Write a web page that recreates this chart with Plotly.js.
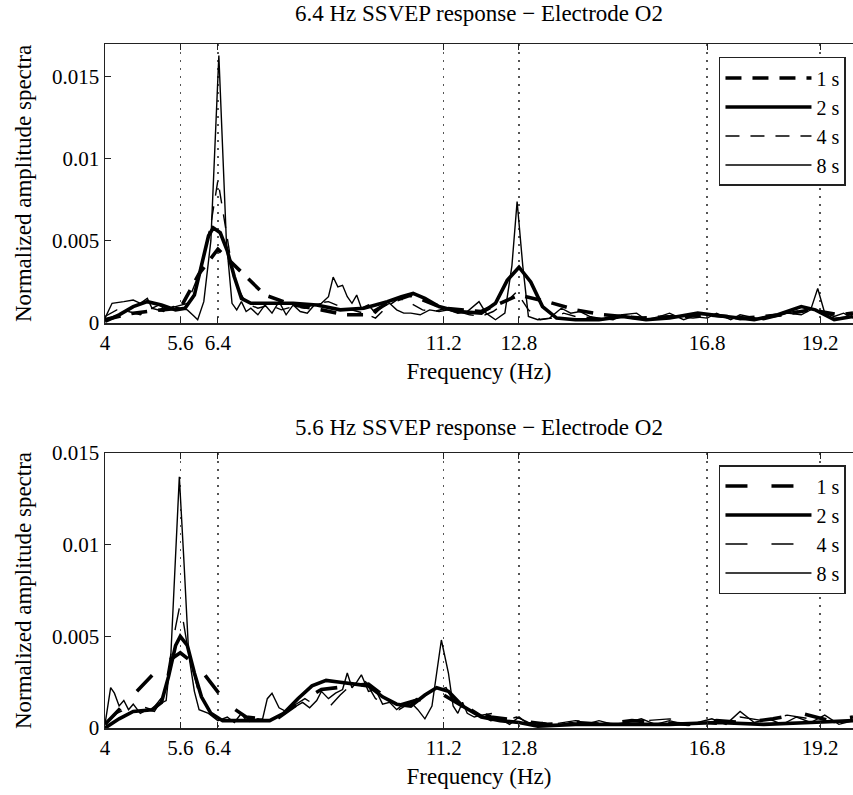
<!DOCTYPE html>
<html>
<head>
<meta charset="utf-8">
<script src="https://cdn.plot.ly/plotly-3.0.1.min.js"></script>
<style>html,body{margin:0;padding:0;background:#fff;}#chart{width:853px;height:795px;}</style>
</head>
<body>
<div id="chart"></div>
<script>
// ---------- Data: top panel, 6.4 Hz SSVEP response (Electrode O2) ----------
const topF1 = [4.0, 4.6, 5.2, 5.6, 6.0, 6.4, 7.4, 8.0, 8.6, 9.1, 9.6, 10.0, 10.5, 11.2, 12.0, 12.8, 13.4, 14.0, 14.6, 15.4, 16.2, 16.8, 17.6, 18.4, 19.0, 19.6, 19.9];
const topV1 = [0.0002, 0.0006, 0.0008, 0.0009, 0.0030, 0.0045, 0.0017, 0.0011, 0.0008, 0.0005, 0.0005, 0.0012, 0.0017, 0.0009, 0.0007, 0.0017, 0.0013, 0.0008, 0.0005, 0.0003, 0.0004, 0.0005, 0.0003, 0.0005, 0.0008, 0.0005, 0.0006];

const topF2 = [4.0, 4.3, 4.6, 4.9, 5.2, 5.5, 5.7, 5.9, 6.05, 6.2, 6.3, 6.45, 6.6, 6.75, 6.9, 7.1, 7.5, 8.0, 8.5, 9.0, 9.5, 10.0, 10.3, 10.55, 10.8, 11.1, 11.5, 12.0, 12.3, 12.55, 12.8, 13.05, 13.3, 13.6, 14.0, 14.5, 15.0, 15.5, 16.0, 16.6, 17.2, 17.8, 18.3, 18.8, 19.1, 19.5, 19.9];
const topV2 = [0.0001, 0.0005, 0.0010, 0.0013, 0.0011, 0.0008, 0.0009, 0.0017, 0.0035, 0.0053, 0.0058, 0.0055, 0.0044, 0.0028, 0.0015, 0.0012, 0.0012, 0.0012, 0.0011, 0.0008, 0.0009, 0.0013, 0.0016, 0.0018, 0.0015, 0.0010, 0.0007, 0.0006, 0.0012, 0.0026, 0.0034, 0.0025, 0.0010, 0.0003, 0.0002, 0.0002, 0.0004, 0.0002, 0.0003, 0.0006, 0.0004, 0.0002, 0.0005, 0.0010, 0.0008, 0.0002, 0.0004];

const topF4 = [4.0, 4.25, 4.5, 4.75, 5.0, 5.25, 5.5, 5.75, 6.0, 6.25, 6.4, 6.55, 6.75, 7.0, 7.25, 7.5, 7.75, 8.0, 8.25, 8.5, 8.75, 9.0, 9.25, 9.5, 9.75, 10.0, 10.25, 10.5, 10.75, 11.0, 11.25, 11.5, 11.75, 12.0, 12.25, 12.5, 12.75, 13.0, 13.25, 13.5, 13.75, 14.0, 14.5, 15.0, 15.5, 16.0, 16.5, 17.0, 17.5, 18.0, 18.5, 19.0, 19.25, 19.5, 19.9];
const topV4 = [0.0004, 0.0008, 0.0007, 0.0005, 0.0009, 0.0007, 0.0010, 0.0012, 0.0030, 0.0060, 0.0087, 0.0060, 0.0025, 0.0012, 0.0009, 0.0011, 0.0008, 0.0010, 0.0009, 0.0012, 0.0013, 0.0010, 0.0008, 0.0006, 0.0003, 0.0010, 0.0015, 0.0012, 0.0008, 0.0007, 0.0009, 0.0007, 0.0005, 0.0004, 0.0007, 0.0012, 0.0019, 0.0008, 0.0002, 0.0003, 0.0006, 0.0004, 0.0003, 0.0005, 0.0002, 0.0004, 0.0003, 0.0005, 0.0002, 0.0003, 0.0006, 0.0009, 0.0006, 0.0003, 0.0004];

const topF8 = [4.0, 4.15, 4.4, 4.6, 4.75, 4.9, 5.0, 5.15, 5.3, 5.45, 5.6, 5.75, 5.9, 5.97, 6.1, 6.25, 6.42, 6.58, 6.7, 6.8, 6.9, 7.0, 7.1, 7.25, 7.4, 7.55, 7.7, 7.85, 8.0, 8.15, 8.3, 8.45, 8.6, 8.75, 8.85, 8.95, 9.05, 9.15, 9.25, 9.35, 9.45, 9.6, 9.75, 9.9, 10.05, 10.2, 10.35, 10.5, 10.7, 10.9, 11.1, 11.3, 11.5, 11.7, 11.95, 12.1, 12.3, 12.5, 12.65, 12.76, 12.88, 13.0, 13.2, 13.45, 13.7, 13.9, 14.1, 14.3, 14.5, 14.8, 15.0, 15.3, 15.5, 15.8, 16.0, 16.3, 16.5, 16.8, 17.0, 17.3, 17.5, 17.8, 18.0, 18.3, 18.5, 18.8, 19.0, 19.15, 19.3, 19.5, 19.7, 19.9];
const topV8 = [0.0003, 0.0012, 0.0013, 0.0014, 0.0012, 0.0015, 0.0009, 0.0011, 0.0008, 0.0010, 0.0009, 0.0008, 0.0004, 0.0002, 0.0013, 0.0050, 0.0163, 0.0050, 0.0012, 0.0008, 0.0013, 0.0007, 0.0009, 0.0005, 0.0011, 0.0006, 0.0013, 0.0005, 0.0011, 0.0007, 0.0006, 0.0011, 0.0012, 0.0016, 0.0028, 0.0022, 0.0023, 0.0016, 0.0012, 0.0017, 0.0009, 0.0011, 0.0006, 0.0010, 0.0012, 0.0008, 0.0006, 0.0006, 0.0005, 0.0008, 0.0007, 0.0008, 0.0006, 0.0007, 0.0013, 0.0006, 0.0002, 0.0006, 0.0035, 0.0074, 0.0035, 0.0004, 0.0002, 0.0003, 0.0009, 0.0006, 0.0007, 0.0004, 0.0003, 0.0002, 0.0005, 0.0006, 0.0002, 0.0004, 0.0006, 0.0002, 0.0004, 0.0003, 0.0006, 0.0002, 0.0005, 0.0003, 0.0002, 0.0004, 0.0006, 0.0005, 0.0008, 0.0021, 0.0006, 0.0004, 0.0006, 0.0003];

// ---------- Data: bottom panel, 5.6 Hz SSVEP response (Electrode O2) ----------
const botF1 = [4.0, 4.6, 5.2, 5.6, 6.0, 6.6, 7.0, 7.6, 8.2, 8.6, 9.2, 9.6, 10.2, 10.6, 11.2, 11.6, 12.2, 12.8, 13.4, 14.0, 14.6, 15.2, 15.8, 16.4, 17.0, 17.6, 18.2, 18.8, 19.4, 19.9];
const botV1 = [0.0002, 0.0018, 0.0034, 0.0041, 0.0033, 0.0013, 0.0006, 0.0004, 0.0015, 0.0021, 0.0023, 0.0024, 0.0012, 0.0015, 0.0018, 0.0012, 0.0006, 0.0004, 0.0002, 0.0003, 0.0002, 0.0004, 0.0003, 0.0002, 0.0004, 0.0003, 0.0005, 0.0008, 0.0004, 0.0006];

const botF2 = [4.0, 4.3, 4.6, 5.0, 5.2, 5.35, 5.5, 5.6, 5.75, 5.9, 6.05, 6.25, 6.5, 7.0, 7.5, 7.8, 8.1, 8.4, 8.7, 9.0, 9.3, 9.6, 9.9, 10.2, 10.5, 10.8, 11.05, 11.3, 11.6, 12.0, 12.4, 12.8, 13.2, 14.0, 15.0, 16.0, 17.0, 18.0, 19.0, 19.9];
const botV2 = [0.0000, 0.0005, 0.0009, 0.0010, 0.0014, 0.0028, 0.0045, 0.0050, 0.0045, 0.0030, 0.0017, 0.0008, 0.0004, 0.0004, 0.0004, 0.0008, 0.0016, 0.0023, 0.0026, 0.0025, 0.0024, 0.0023, 0.0017, 0.0013, 0.0012, 0.0018, 0.0022, 0.0020, 0.0012, 0.0006, 0.0004, 0.0003, 0.0001, 0.0002, 0.0002, 0.0002, 0.0003, 0.0002, 0.0003, 0.0004];

const botF4 = [4.0, 4.25, 4.5, 4.75, 5.0, 5.25, 5.5, 5.6, 5.75, 6.0, 6.25, 6.5, 6.75, 7.0, 7.25, 7.5, 7.75, 8.0, 8.25, 8.5, 8.75, 9.0, 9.25, 9.5, 9.75, 10.0, 10.25, 10.5, 10.75, 11.0, 11.25, 11.5, 11.75, 12.0, 12.25, 12.5, 12.75, 13.0, 13.5, 14.0, 14.5, 15.0, 15.5, 16.0, 16.5, 17.0, 17.5, 18.0, 18.5, 19.0, 19.5, 19.9];
const botV4 = [0.0002, 0.0008, 0.0011, 0.0012, 0.0010, 0.0018, 0.0055, 0.0068, 0.0045, 0.0018, 0.0008, 0.0004, 0.0005, 0.0003, 0.0005, 0.0004, 0.0007, 0.0012, 0.0016, 0.0012, 0.0011, 0.0018, 0.0024, 0.0027, 0.0016, 0.0013, 0.0010, 0.0014, 0.0018, 0.0020, 0.0022, 0.0010, 0.0011, 0.0007, 0.0008, 0.0004, 0.0006, 0.0003, 0.0002, 0.0004, 0.0003, 0.0002, 0.0004, 0.0005, 0.0003, 0.0002, 0.0006, 0.0004, 0.0007, 0.0005, 0.0003, 0.0004];

const botF8 = [4.0, 4.05, 4.12, 4.2, 4.3, 4.4, 4.5, 4.6, 4.75, 4.9, 5.05, 5.15, 5.3, 5.4, 5.5, 5.58, 5.68, 5.78, 5.9, 6.0, 6.2, 6.4, 6.6, 6.75, 6.9, 7.0, 7.2, 7.35, 7.45, 7.55, 7.7, 7.85, 8.0, 8.2, 8.35, 8.5, 8.6, 8.75, 8.9, 9.05, 9.15, 9.25, 9.35, 9.45, 9.6, 9.75, 9.9, 10.05, 10.2, 10.35, 10.5, 10.65, 10.8, 10.95, 11.05, 11.15, 11.3, 11.4, 11.5, 11.6, 11.7, 11.85, 12.0, 12.2, 12.4, 12.6, 12.8, 13.0, 13.3, 13.6, 13.9, 14.2, 14.5, 14.8, 15.1, 15.4, 15.7, 16.0, 16.3, 16.6, 16.9, 17.2, 17.5, 17.8, 18.1, 18.4, 18.7, 19.0, 19.3, 19.6, 19.9];
const botV8 = [0.0002, 0.0010, 0.0022, 0.0019, 0.0012, 0.0015, 0.0010, 0.0013, 0.0008, 0.0010, 0.0009, 0.0013, 0.0015, 0.0040, 0.0090, 0.0137, 0.0090, 0.0040, 0.0020, 0.0010, 0.0008, 0.0004, 0.0006, 0.0003, 0.0008, 0.0004, 0.0004, 0.0005, 0.0016, 0.0019, 0.0011, 0.0009, 0.0011, 0.0014, 0.0011, 0.0015, 0.0020, 0.0016, 0.0019, 0.0021, 0.0030, 0.0022, 0.0025, 0.0029, 0.0020, 0.0021, 0.0013, 0.0014, 0.0010, 0.0013, 0.0014, 0.0010, 0.0005, 0.0012, 0.0030, 0.0048, 0.0030, 0.0012, 0.0008, 0.0014, 0.0008, 0.0006, 0.0007, 0.0004, 0.0005, 0.0002, 0.0006, 0.0002, 0.0003, 0.0001, 0.0003, 0.0002, 0.0004, 0.0002, 0.0003, 0.0005, 0.0002, 0.0004, 0.0002, 0.0003, 0.0005, 0.0002, 0.0009, 0.0003, 0.0005, 0.0002, 0.0006, 0.0003, 0.0007, 0.0002, 0.0004];

const legendNames = ['1 s', '2 s', '4 s', '8 s'];
const xTickVals = [4, 5.6, 6.4, 11.2, 12.8, 16.8, 19.2];
const xTickText = ['4', '5.6', '6.4', '11.2', '12.8', '16.8', '19.2'];
const yTickVals = [0, 0.005, 0.01, 0.015];
const yTickText = ['0', '0.005', '0.01', '0.015'];
const titles = ['6.4 Hz SSVEP response \u2212 Electrode O2', '5.6 Hz SSVEP response \u2212 Electrode O2'];

// ---------- Styles ----------
const FONT = '"Liberation Serif", "Times New Roman", serif';
const thick = 3.6, thin = 1.4;
function tr(x, y, name, width, dash, xa, ya, leg) {
  return {x: x, y: y, name: name, type: 'scatter', mode: 'lines', xaxis: xa, yaxis: ya, legend: leg,
    line: {color: '#000', width: width, dash: dash}, hoverinfo: 'x+y+name'};
}
const traces = [
  tr(topF1, topV1, legendNames[0], thick, '16px,11px', 'x', 'y', 'legend'),
  tr(topF2, topV2, legendNames[1], thick, 'solid', 'x', 'y', 'legend'),
  tr(topF4, topV4, legendNames[2], thin, '14px,11px', 'x', 'y', 'legend'),
  tr(topF8, topV8, legendNames[3], thin, 'solid', 'x', 'y', 'legend'),
  tr(botF1, botV1, legendNames[0], thick, '22px,24px', 'x2', 'y2', 'legend2'),
  tr(botF2, botV2, legendNames[1], thick, 'solid', 'x2', 'y2', 'legend2'),
  tr(botF4, botV4, legendNames[2], thin, '22px,24px', 'x2', 'y2', 'legend2'),
  tr(botF8, botV8, legendNames[3], thin, 'solid', 'x2', 'y2', 'legend2')
];

function xax(anchor) {
  return {anchor: anchor, range: [4, 19.9], tickvals: xTickVals, ticktext: xTickText,
    ticks: 'inside', ticklen: 6, tickcolor: '#222', showline: true, linecolor: '#222', linewidth: 1.5,
    mirror: 'ticks', showgrid: true, gridcolor: '#555', griddash: '2px,6px', gridwidth: 1.5, zeroline: false,
    tickfont: {family: FONT, size: 21, color: '#000'},
    title: {text: 'Frequency (Hz)', font: {family: FONT, size: 23, color: '#000'}, standoff: 9}};
}
function yax(anchor, dom, top) {
  return {anchor: anchor, domain: dom, range: [0, top], tickvals: yTickVals, ticktext: yTickText,
    ticks: 'inside', ticklen: 6, tickcolor: '#222', showline: true, linecolor: '#222', linewidth: 1.5,
    showgrid: false, zeroline: false,
    tickfont: {family: FONT, size: 21, color: '#000'},
    title: {text: 'Normalized amplitude spectra', font: {family: FONT, size: 23, color: '#000'}, standoff: 14}};
}
const legendStyle = (ytop) => ({x: 0.9906, xanchor: 'right', y: ytop, yanchor: 'top',
  bgcolor: '#fff', bordercolor: '#222', borderwidth: 1.5, tracegroupgap: 0, itemwidth: 86,
  font: {family: FONT, size: 20, color: '#000'}});

const layout = {
  width: 853, height: 795,
  margin: {l: 105, r: 0, t: 44, b: 67},
  paper_bgcolor: '#fff', plot_bgcolor: '#fff',
  font: {family: FONT, color: '#000'},
  xaxis: xax('y'),
  yaxis: yax('x', [0.5921, 1], 0.017),
  xaxis2: xax('y2'),
  yaxis2: yax('x2', [0, 0.402], 0.015),
  legend: legendStyle(0.981),
  legend2: legendStyle(0.3845),
  annotations: [
    {text: titles[0], xref: 'paper', yref: 'paper', x: 0.5, y: 1.0439, xanchor: 'center', yanchor: 'middle', showarrow: false, font: {family: FONT, size: 23, color: '#000'}},
    {text: titles[1], xref: 'paper', yref: 'paper', x: 0.5, y: 0.4386, xanchor: 'center', yanchor: 'middle', showarrow: false, font: {family: FONT, size: 23, color: '#000'}}
  ]
};
Plotly.newPlot('chart', traces, layout, {displayModeBar: false, staticPlot: true});
</script>
</body>
</html>
